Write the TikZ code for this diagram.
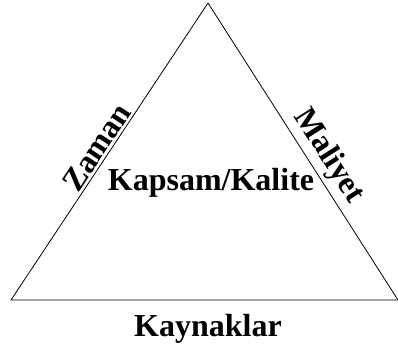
\documentclass[tikz,border=0pt]{standalone}
\usepackage{fontspec}
\setmainfont{Liberation Serif}
\usepackage{tikz}
\usetikzlibrary{positioning}
\tikzstyle{sidetext} = [font=\fontsize{32}{36}\selectfont\bfseries, sloped, anchor=south, inner sep=2pt]
\tikzstyle{maintext} = [font=\fontsize{32}{36}\selectfont\bfseries, inner sep=0pt]

\begin{document}
\begin{tikzpicture}[x=1pt, y=1pt]
\useasboundingbox (0,0) rectangle (398,349);
\coordinate (top) at (208,346);
\coordinate (bl) at (11,49);
\coordinate (br) at (398,49);

\draw[line width=0.8pt, line join=miter] (bl) -- (top) node[sidetext, pos=0.49] (zaman) {Zaman}
  -- (br) node[sidetext, pos=0.55, inner sep=4pt] (maliyet) {Maliyet} -- cycle;

\node[maintext, anchor=base] (kapsam) at (211,159) {Kapsam/Kalite};
\node[maintext, anchor=base] (kaynak) at (208,13) {Kaynaklar};
\end{tikzpicture}
\end{document}
